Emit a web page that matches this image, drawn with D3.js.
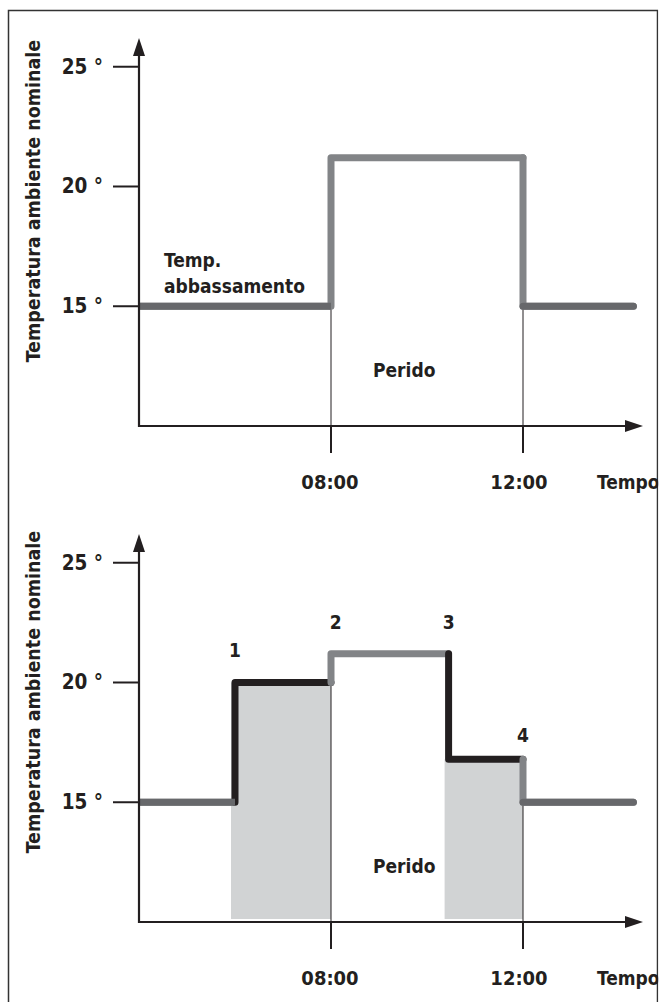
<!DOCTYPE html>
<html>
<head>
<meta charset="utf-8">
<script src="https://cdn.jsdelivr.net/npm/d3@7/dist/d3.min.js"></script>
<style>
  body { margin: 0; background: #fff; }
  text { font-family: "DejaVu Sans Condensed", "DejaVu Sans", sans-serif; font-weight: bold; fill: #231f20; }
</style>
</head>
<body>
<div class="chart"></div>
<script>
// values (hours, degrees)
const tempTicks = [15, 20, 25];
const tempTickLabels = ["15 °", "20 °", "25 °"];
const timeTicks = [8, 12];
const timeTickLabels = ["08:00", "12:00"];
const setbackTemp = 15;

// programmed set-point profile (step after each time)
const programTimes = [4, 8, 12, 14.3];
const programTemps = [15, 21.2, 15, 15];
const programChanged = [false, false, false];

// profile after the manual changes (second chart)
const actualTimes = [4, 6, 8, 10.45, 12, 14.3];
const actualTemps = [15, 20, 21.2, 16.8, 15, 15];
const actualChanged = [false, true, false, true, false];

// numbered markers
const markLabels = ["1", "2", "3", "4"];
const markTimes = [6, 8.1, 10.45, 12];
const markTemps = [21.05, 22.25, 22.25, 17.5];

const W = 659, H = 1002;
const lowGray = "#67686b", highGray = "#828487", ink = "#231f20", fillGray = "#d1d3d4";

let svg = d3.select('.chart')
  .append('svg')
  .attr('width', W)
  .attr('height', H);

// frame
svg.append('path')
  .attr('d', "M8.5," + H + "V10.5H657.5V" + H)
  .attr('fill', 'none')
  .attr('stroke', '#333')
  .attr('stroke-width', 1.5);

let xScale = d3.scaleLinear().domain([4, 14.5]).range([139, 643]);
let yScale = d3.scaleLinear().domain([10, 26.2]).range([426, 38]);
let line = d3.line().x(d => xScale(d[0])).y(d => yScale(d[1]));

// one piece of a step profile: rise/fall at times[i], then flat to times[i+1]
function segment(times, temps, i) {
  let pts = [];
  if (i > 0) pts.push([times[i], temps[i - 1]]);
  pts.push([times[i], temps[i]]);
  pts.push([times[i + 1], temps[i]]);
  return pts;
}

function drawPanel(offset, titleY, times, temps, changed) {
  let g = svg.append('g').attr('transform', "translate(0," + offset + ")");
  let n = times.length - 1;

  // gray fills under the changed periods
  d3.range(n).filter(i => changed[i]).forEach(i => {
    g.append('rect')
      .attr('x', xScale(times[i]) - 4)
      .attr('y', yScale(temps[i]))
      .attr('width', xScale(times[i + 1]) - xScale(times[i]) + 4)
      .attr('height', yScale(10) - yScale(temps[i]) - 3)
      .attr('fill', fillGray);
  });

  // thin drop lines to the time ticks
  timeTicks.forEach(t => {
    let i = times.indexOf(t);
    let lo = i >= 0 ? Math.min(temps[i], temps[i - 1]) : setbackTemp;
    g.append('line')
      .attr('x1', xScale(t)).attr('x2', xScale(t))
      .attr('y1', yScale(lo)).attr('y2', yScale(10) + 27)
      .attr('stroke', ink).attr('stroke-width', 1);
  });

  // profile line
  d3.range(n).forEach(i => {
    g.append('path')
      .attr('d', line(segment(times, temps, i)))
      .attr('fill', 'none')
      .attr('stroke', changed[i] ? ink : highGray)
      .attr('stroke-width', 7)
      .attr('stroke-linejoin', 'round')
      .attr('stroke-linecap', i === 0 ? 'butt' : 'round');
  });
  // set-back runs are a darker gray
  d3.range(n).filter(i => !changed[i] && temps[i] === setbackTemp).forEach(i => {
    g.append('line')
      .attr('x1', xScale(times[i])).attr('x2', xScale(times[i + 1]))
      .attr('y1', yScale(temps[i])).attr('y2', yScale(temps[i]))
      .attr('stroke', lowGray).attr('stroke-width', 7)
      .attr('stroke-linecap', i === 0 ? 'butt' : 'round');
  });

  // axes
  g.append('path')
    .attr('d', "M" + xScale(4) + "," + (yScale(26.2) + 8) + "V" + yScale(10) + "H" + (xScale(14.5) - 12))
    .attr('fill', 'none')
    .attr('stroke', ink)
    .attr('stroke-width', 2.2);
  g.append('path')
    .attr('d', "M" + xScale(4) + "," + yScale(26.2) + "l-6,18h12z")
    .attr('fill', ink);
  g.append('path')
    .attr('d', "M" + xScale(14.5) + "," + yScale(10) + "l-18,-6v12z")
    .attr('fill', ink);

  // y ticks
  g.selectAll('.ytick')
    .data(tempTicks)
    .enter()
    .append('line')
    .attr('x1', xScale(4) - 26).attr('x2', xScale(4))
    .attr('y1', d => yScale(d)).attr('y2', d => yScale(d))
    .attr('stroke', ink).attr('stroke-width', 2);
  g.selectAll('.ylab')
    .data(tempTicks)
    .enter()
    .append('text')
    .attr('x', xScale(4) - 36)
    .attr('y', d => yScale(d) + 7)
    .attr('text-anchor', 'end')
    .style('font-size', '20.5px')
    .text((d, i) => tempTickLabels[i]);

  // x ticks
  g.selectAll('.xtick')
    .data(timeTicks)
    .enter()
    .append('line')
    .attr('x1', d => xScale(d)).attr('x2', d => xScale(d))
    .attr('y1', yScale(10)).attr('y2', yScale(10) + 27)
    .attr('stroke', ink).attr('stroke-width', 2);
  g.selectAll('.xlab')
    .data(timeTicks)
    .enter()
    .append('text')
    .attr('x', (d, i) => xScale(d) - (i === 0 ? 1 : 4))
    .attr('y', yScale(10) + 63)
    .attr('text-anchor', 'middle')
    .style('font-size', '20px')
    .text((d, i) => timeTickLabels[i]);
  g.append('text')
    .attr('x', 597)
    .attr('y', yScale(10) + 63)
    .style('font-size', '19px')
    .text('Tempo');

  // y axis title
  g.append('text')
    .attr('transform', "translate(40," + titleY + ") rotate(-90)")
    .attr('text-anchor', 'middle')
    .style('font-size', '19.5px')
    .text('Temperatura ambiente nominale');

  g.append('text')
    .attr('x', 373)
    .attr('y', 377)
    .style('font-size', '19px')
    .text('Perido');

  return g;
}

let upper = drawPanel(0, 201, programTimes, programTemps, programChanged);
upper.append('text').attr('x', 164).attr('y', 267).style('font-size', '19px').text('Temp.');
upper.append('text').attr('x', 164).attr('y', 293).style('font-size', '19px').text('abbassamento');

let lower = drawPanel(496, 196, actualTimes, actualTemps, actualChanged);
lower.selectAll('.num')
  .data(markLabels)
  .enter()
  .append('text')
  .attr('x', (d, i) => xScale(markTimes[i]))
  .attr('y', (d, i) => yScale(markTemps[i]))
  .attr('text-anchor', 'middle')
  .style('font-size', '19px')
  .text(d => d);

// clip "Tempo" at the frame edge
svg.append('rect').attr('x', 658.3).attr('y', 0).attr('width', 10).attr('height', H).attr('fill', '#fff');
</script>
</body>
</html>
